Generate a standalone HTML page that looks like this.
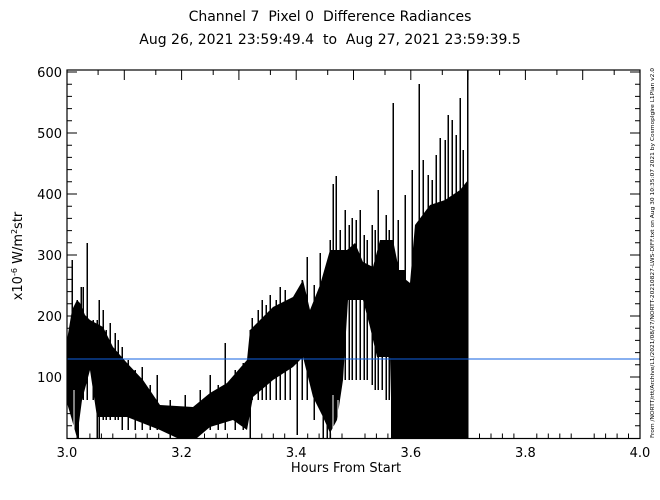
<!DOCTYPE html>
<html><head><meta charset="utf-8"><style>
html,body{margin:0;padding:0;background:#fff;}
svg{display:block;font-family:"DejaVu Sans","Liberation Sans",sans-serif;}
</style></head><body>
<svg width="660" height="500" viewBox="0 0 660 500" xmlns="http://www.w3.org/2000/svg">
<rect width="660" height="500" fill="#fff"/>
<text x="330" y="21" font-size="14" text-anchor="middle" fill="#000" xml:space="preserve">Channel 7  Pixel 0  Difference Radiances</text>
<text x="330" y="44" font-size="14" text-anchor="middle" fill="#000" xml:space="preserve">Aug 26, 2021 23:59:49.4  to  Aug 27, 2021 23:59:39.5</text>
<polygon fill="#000" points="67,340 72,310 77,300 80,303 85,315 90,320 103,327 113,347 127,363 143,380 160,405 193,407 210,393 227,383 247,360 250,330 273,307 293,297 303,280 310,310 320,285 330,250 347,250 355,243 363,262 373,267 380,240 393,240 400,275 410,283 415,225 430,205 445,200 460,190 468,180 468,438 392,438 390,357 377,357 370,327 363,300 348,300 343,380 337,420 330,433 323,417 313,397 303,357 293,367 273,380 253,397 247,430 233,420 210,427 197,438 177,438 160,430 127,417 97,417 90,370 82,400 77,438 72,420 67,403"/>
<rect x="391" y="285" width="26" height="153" fill="#000"/>
<rect x="395" y="270" width="10" height="20" fill="#000"/>
<path stroke="#000" stroke-width="1.5" fill="none" shape-rendering="crispEdges" d="M72 400V260M77 438V300M78 438V320M81 400V287M83 400V287M87 400V243M93 400V320M97 438V320M99 438V300M103 420V310M106 420V330M110 420V323M115 420V333M118 420V340M122 430V347M128 430V360M135 430V370M142 430V367M150 430V385M157 430V375M170 438V400M185 438V395M200 430V390M210 430V375M218 430V385M225 430V343M235 430V370M243 430V363M250 438V330M252 400V318M258 400V310M262 400V300M266 400V305M270 400V295M276 400V300M280 400V287M285 400V290M290 400V300M297 435V300M302 400V280M307 400V257M314 420V285M320 400V253M323 438V300M327 438V300M330 438V240M333 380V184M336 380V176M340 380V230M345 380V210M349 380V225M352 380V218M356 380V220M360 380V210M364 380V235M367 380V240M372 385V225M375 390V230M378 390V190M382 390V240M386 400V215M389 400V230M393 438V103M398 438V220M405 438V195M412 438V170M419 438V84M423 438V160M428 438V175M432 438V180M436 438V155M440 438V138M445 438V140M448 438V115M452 438V120M456 438V135M460 438V98M463 438V150M467.5 438V70"/>
<path stroke="#fff" stroke-width="1" fill="none" shape-rendering="crispEdges" d="M74 438V390M88 438V400M333 438V395M338 438V400"/>
<line x1="67" y1="359" x2="640" y2="359" stroke="#1060e0" stroke-width="1"/>
<rect x="67" y="70" width="573" height="368.5" fill="none" stroke="#000" stroke-width="1.2"/>
<path stroke="#000" fill="none" d="M78.5 438.5V433.5M89.9 438.5V433.5M101.4 438.5V433.5M112.8 438.5V433.5M135.8 438.5V433.5M147.2 438.5V433.5M158.7 438.5V433.5M170.1 438.5V433.5M193.1 438.5V433.5M204.5 438.5V433.5M216 438.5V433.5M227.4 438.5V433.5M250.4 438.5V433.5M261.8 438.5V433.5M273.3 438.5V433.5M284.7 438.5V433.5M307.7 438.5V433.5M319.1 438.5V433.5M330.6 438.5V433.5M342 438.5V433.5M365 438.5V433.5M376.4 438.5V433.5M387.9 438.5V433.5M399.3 438.5V433.5M422.3 438.5V433.5M433.7 438.5V433.5M445.2 438.5V433.5M456.6 438.5V433.5M479.5 438.5V433.5M491 438.5V433.5M502.4 438.5V433.5M513.9 438.5V433.5M536.8 438.5V433.5M548.3 438.5V433.5M559.8 438.5V433.5M571.2 438.5V433.5M594.2 438.5V433.5M605.6 438.5V433.5M617.1 438.5V433.5M628.5 438.5V433.5
M98.1 70V75M124.3 70V80M155.8 70V75M181.6 70V80M213.2 70V75M238.9 70V80M270.4 70V75M296.2 70V80M327.7 70V75M353.5 70V80M385 70V75M410.8 70V80M442.3 70V75M468.1 70V80M499.6 70V75M525.4 70V80M556.9 70V75M582.7 70V80M614.2 70V75
M67 425.8H72M67 413.6H72M67 401.4H72M67 389.2H72M67 377H77M67 364.8H72M67 352.6H72M67 340.4H72M67 328.2H72M67 316H77M67 303.8H72M67 291.6H72M67 279.4H72M67 267.2H72M67 255H77M67 242.8H72M67 230.6H72M67 218.4H72M67 206.2H72M67 194H77M67 181.8H72M67 169.6H72M67 157.4H72M67 145.2H72M67 133H77M67 120.8H72M67 108.6H72M67 96.4H72M67 84.2H72M67 72H77
M640 425.8H635M640 413.6H635M640 401.4H635M640 389.2H635M640 377H630M640 364.8H635M640 352.6H635M640 340.4H635M640 328.2H635M640 316H630M640 303.8H635M640 291.6H635M640 279.4H635M640 267.2H635M640 255H630M640 242.8H635M640 230.6H635M640 218.4H635M640 206.2H635M640 194H630M640 181.8H635M640 169.6H635M640 157.4H635M640 145.2H635M640 133H630M640 120.8H635M640 108.6H635M640 96.4H635M640 84.2H635M640 72H630"/>
<g font-size="13" fill="#000">
<text x="67" y="457" text-anchor="middle">3.0</text>
<text x="181.6" y="457" text-anchor="middle">3.2</text>
<text x="296.2" y="457" text-anchor="middle">3.4</text>
<text x="410.8" y="457" text-anchor="middle">3.6</text>
<text x="525.4" y="457" text-anchor="middle">3.8</text>
<text x="640" y="457" text-anchor="middle">4.0</text>
<text x="62" y="382" text-anchor="end">100</text>
<text x="62" y="321" text-anchor="end">200</text>
<text x="62" y="260" text-anchor="end">300</text>
<text x="62" y="199" text-anchor="end">400</text>
<text x="62" y="138" text-anchor="end">500</text>
<text x="62" y="77" text-anchor="end">600</text>
<text x="346" y="472" text-anchor="middle">Hours From Start</text>
<text transform="translate(22,256) rotate(-90)" text-anchor="middle">x10<tspan dy="-5" font-size="8">-6</tspan><tspan dy="5"> W/m</tspan><tspan dy="-5" font-size="8">2</tspan><tspan dy="5">str</tspan></text>
</g>
<text transform="translate(654,438) rotate(-90)" font-size="5" fill="#000" textLength="370" lengthAdjust="spacingAndGlyphs">From /NORTT/rtt/Archive/L1/2021/08/27/NORTT-20210827-LWS-DIFF.txt on Aug 30 10:35:07 2021 by Cosmoplgire L1Plan v2.0</text>
</svg>
</body></html>
